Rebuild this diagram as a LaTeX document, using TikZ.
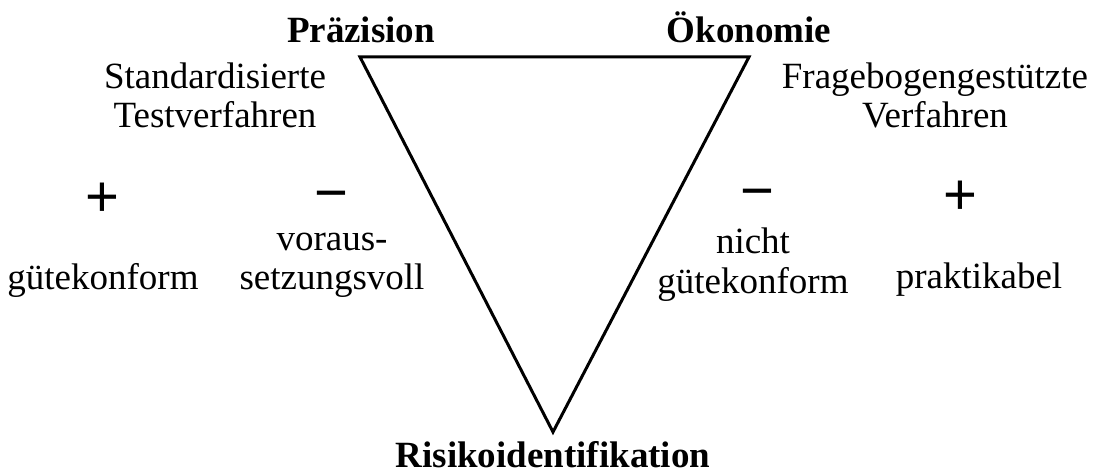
\documentclass[tikz,border=0pt]{standalone}
\usepackage{fontspec}
\setmainfont{Liberation Serif}
\newfontfamily\signfont{Liberation Sans}
\tikzset{
  lab/.style={font=\fontsize{18.5}{20}\selectfont, inner sep=0pt, align=center, anchor=base},
  head/.style={lab, font=\fontsize{18.5}{20}\selectfont\bfseries},
  sgn/.style={font=\signfont\fontsize{29}{30}\selectfont, inner sep=0pt, anchor=base},
  edge/.style={draw=black, line width=1.5pt, line join=miter},
}
\begin{document}
\begin{tikzpicture}[x=0.5pt,y=-0.5pt]
\useasboundingbox (0,0) rectangle (1094,476);
% corners of the triangle
\coordinate (tl) at (360,57);
\coordinate (tr) at (749,57);
\coordinate (bt) at (553,432);
\draw[edge] (tl) -- (tr) -- (bt) -- cycle;
% the three poles
\node[head] (praez) at (361,43) {Präzision};
\node[head] (oeko) at (749,43) {Ökonomie};
\node[head] (risiko) at (553,467) {Risikoidentifikation};
% methods (base = last line)
\node[lab] (test) at (215,128) {Standardisierte\\Testverfahren};
\node[lab] (frage) at (935,128) {Fragebogengestützte\\Verfahren};
% pros and cons
\node[sgn] (plusL) at (102,217) {+};
\node[sgn] (minusL) at (331,213) {−};
\node[sgn] (minusR) at (757,211) {−};
\node[sgn] (plusR) at (960,215) {+};
\node[lab] (guete) at (103,290) {gütekonform};
\node[lab] (vor) at (332,290) {voraus-\\setzungsvoll};
\node[lab] (nicht) at (753,293) {nicht\\gütekonform};
\node[lab] (prakt) at (979,289) {praktikabel};
\end{tikzpicture}
\end{document}
